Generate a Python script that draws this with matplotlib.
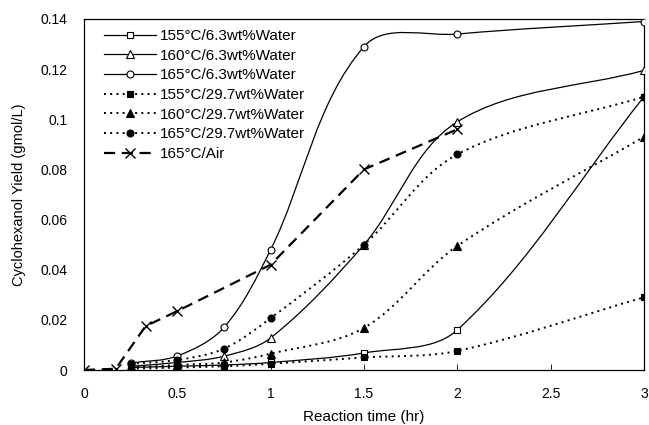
import numpy as np
import matplotlib
matplotlib.use("Agg")
import matplotlib.pyplot as plt
from matplotlib.path import Path
from matplotlib.patches import PathPatch
from matplotlib.lines import Line2D

plt.rcParams['font.family'] = ['Liberation Sans', 'DejaVu Sans']

# reaction time (hr)
t_water = [0.25, 0.5, 0.75, 1.0, 1.5, 2.0, 3.0]
t_air = [0.0, 0.17, 0.33, 0.5, 1.0, 1.5, 2.0]

# cyclohexanol yield (gmol/L)
y155_63 = [0.001, 0.0015, 0.002, 0.003, 0.0068, 0.016, 0.109]
y160_63 = [0.0015, 0.003, 0.0055, 0.0128, 0.050, 0.099, 0.1195]
y165_63 = [0.0028, 0.0056, 0.017, 0.048, 0.129, 0.134, 0.139]
y155_297 = [0.0005, 0.001, 0.0015, 0.0025, 0.005, 0.0076, 0.029]
y160_297 = [0.001, 0.002, 0.003, 0.0065, 0.0168, 0.0495, 0.093]
y165_297 = [0.0025, 0.004, 0.0085, 0.0207, 0.050, 0.086, 0.109]
y165_air = [0.0, 0.0005, 0.0175, 0.0235, 0.042, 0.080, 0.096]

labels = ["155°C/6.3wt%Water", "160°C/6.3wt%Water", "165°C/6.3wt%Water",
          "155°C/29.7wt%Water", "160°C/29.7wt%Water", "165°C/29.7wt%Water",
          "165°C/Air"]


def smooth_path(ax, x, y):
    # Excel-like smoothed line, built in screen space then mapped back
    p = ax.transData.transform(np.column_stack([x, y]))
    n = len(p)
    verts = [p[0]]
    codes = [Path.MOVETO]
    for i in range(n - 1):
        seg = np.hypot(*(p[i + 1] - p[i])) / 3.0
        d1 = p[i + 1] - p[max(i - 1, 0)]
        d2 = p[min(i + 2, n - 1)] - p[i]
        c1 = p[i] + d1 / np.hypot(*d1) * seg
        c2 = p[i + 1] - d2 / np.hypot(*d2) * seg
        verts += [c1, c2, p[i + 1]]
        codes += [Path.CURVE4] * 3
    verts = ax.transData.inverted().transform(np.array(verts))
    return Path(verts, codes)


fig = plt.figure(figsize=(6.49, 4.25), dpi=100)
ax = fig.add_axes([84 / 649, 55 / 425, 560 / 649, 351 / 425])
ax.set_xlim(0, 3)
ax.set_ylim(0, 0.14)

solid = '-'
dotted = (0, (1, 2.2))
dashed = (0, (5, 3))

series = [
    (t_water, y155_63, solid, 's', 'white', 0.9),
    (t_water, y160_63, solid, '^', 'white', 0.9),
    (t_water, y165_63, solid, 'o', 'white', 0.9),
    (t_water, y155_297, dotted, 's', 'black', 1.4),
    (t_water, y160_297, dotted, '^', 'black', 1.4),
    (t_water, y165_297, dotted, 'o', 'black', 1.4),
]

handles = []
for (x, y, ls, mk, fc, lw), lab in zip(series, labels):
    patch = PathPatch(smooth_path(ax, x, y), fill=False, edgecolor='black',
                      linewidth=lw, linestyle=ls, zorder=2)
    ax.add_patch(patch)
    ms = 6 if mk == '^' else 5
    ax.plot(x, y, linestyle='none', marker=mk, markersize=ms,
            markerfacecolor=fc, markeredgecolor='black',
            markeredgewidth=0.8, zorder=3)
    handles.append(Line2D([], [], color='black', linestyle=ls, linewidth=lw,
                          marker=mk, markersize=ms, markerfacecolor=fc,
                          markeredgecolor='black', markeredgewidth=0.8))

ax.plot(t_air, y165_air, color='black', linestyle=dashed, linewidth=1.6,
        marker='x', markersize=7, markeredgewidth=1.0, zorder=3)
handles.append(Line2D([], [], color='black', linestyle=dashed, linewidth=1.6,
                      marker='x', markersize=7, markeredgewidth=1.0))

ax.set_xticks([0, 0.5, 1, 1.5, 2, 2.5, 3])
ax.set_xticklabels(['0', '0.5', '1', '1.5', '2', '2.5', '3'])
ax.set_yticks([0, 0.02, 0.04, 0.06, 0.08, 0.1, 0.12, 0.14])
ax.set_yticklabels(['0', '0.02', '0.04', '0.06', '0.08', '0.1', '0.12', '0.14'])
ax.tick_params(axis='x', direction='in', length=4, width=0.6, pad=12, labelsize=10)
ax.tick_params(axis='y', direction='in', length=0, width=0.6, pad=12, labelsize=10)
for s in ax.spines.values():
    s.set_linewidth(0.9)

ax.set_xlabel("Reaction time (hr)", fontsize=11, labelpad=7)
ax.set_ylabel("Cyclohexanol Yield (gmol/L)", fontsize=10.5, labelpad=10)

ax.legend(handles, labels, loc='upper left', bbox_to_anchor=(0.03, 0.98),
          frameon=False, fontsize=11, handlelength=3.4, handletextpad=0.25,
          labelspacing=0.37, borderaxespad=0, borderpad=0.2)

fig.savefig("out.png", dpi=100)
